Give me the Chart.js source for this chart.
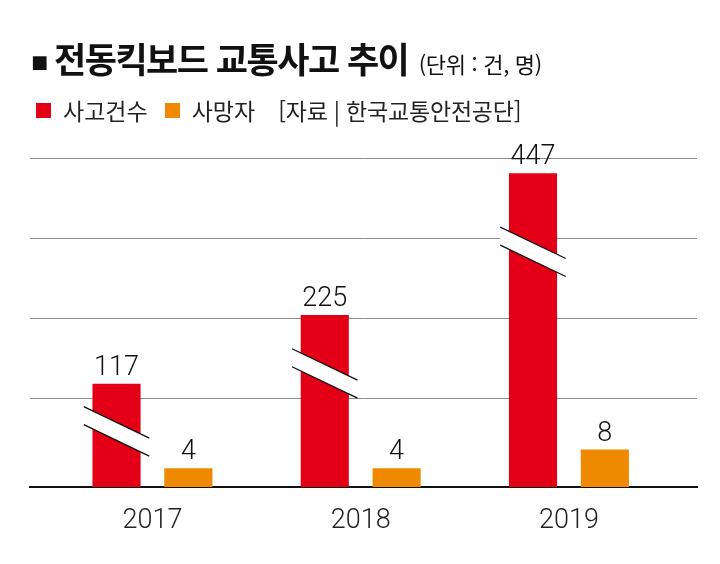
<!DOCTYPE html>
<html lang="ko">
<head>
<meta charset="utf-8">
<script src="https://cdn.jsdelivr.net/npm/chart.js@4.4.1/dist/chart.umd.min.js"></script>
<style>
  html, body { margin: 0; padding: 0; background: #fff; }
  #wrap { position: relative; width: 720px; height: 564px; overflow: hidden; }
  #chart { position: absolute; left: 0; top: 0; }
  #title {
    position: absolute; left: 31px; top: 40px; white-space: nowrap;
    font-family: "Noto Sans CJK KR", sans-serif; color: #111;
    font-size: 35px; line-height: 35px; font-weight: 700; letter-spacing: -1.5px;
  }
  #title .sq { font-family: "DejaVu Sans", sans-serif; font-size: 18px; letter-spacing: 0; margin-right: 6px; vertical-align: 5px; }
  #title .unit { font-size: 22px; font-weight: 400; letter-spacing: -0.3px; margin-left: 2px; }
  #legend {
    position: absolute; left: 36px; top: 99px; height: 22px; display: flex; align-items: center; white-space: nowrap;
    font-family: "Noto Sans CJK KR", sans-serif; color: #222; font-size: 23px; line-height: 22px; letter-spacing: 0;
  }
  #legend .box { display: inline-block; width: 15px; height: 15px; margin-right: 12px; }
  #legend .item { display: flex; align-items: center; margin-right: 17px; }
  #legend .src { margin-left: 6px; letter-spacing: -0.2px; }
</style>
</head>
<body>
<div id="wrap">
  <canvas id="chart" width="720" height="564"></canvas>
  <div id="title"><span class="sq">■</span>전동킥보드 교통사고 추이 <span class="unit">(단위 : 건, 명)</span></div>
  <div id="legend"></div>
</div>
<script>
const years = ['2017', '2018', '2019'];
const accidents = [117, 225, 447];
const deaths = [4, 4, 8];
const seriesNames = ['사고건수', '사망자'];
const sourceText = '[자료 | 한국교통안전공단]';

const RED = '#e30016';
const ORANGE = '#ef8a00';

// break marks across the red bars (fraction of bar height where the cut sits)
const breakMarks = {
    id: 'breakMarks',
    afterDatasetsDraw(chart, args, opts) {
        const ctx = chart.ctx;
        const meta = chart.getDatasetMeta(0);
        ctx.save();
        meta.data.forEach((bar, i) => {
            const f = opts.fractions[i];
            const yc = bar.base - f * (bar.base - bar.y);
            const half = bar.width / 2 + 8.7;
            const dy = opts.slope * half;
            const g = opts.gap / 2;
            const x0 = bar.x - half, x1 = bar.x + half;
            ctx.fillStyle = '#fff';
            ctx.beginPath();
            ctx.moveTo(x0, yc - g - dy);
            ctx.lineTo(x1, yc - g + dy);
            ctx.lineTo(x1, yc + g + dy);
            ctx.lineTo(x0, yc + g - dy);
            ctx.closePath();
            ctx.fill();
            ctx.strokeStyle = '#111';
            ctx.lineWidth = 1.3;
            ctx.beginPath();
            ctx.moveTo(x0, yc - g - dy);
            ctx.lineTo(x1, yc - g + dy);
            ctx.moveTo(x0, yc + g - dy);
            ctx.lineTo(x1, yc + g + dy);
            ctx.stroke();
        });
        ctx.restore();
    }
};

const valueLabels = {
    id: 'valueLabels',
    afterDatasetsDraw(chart) {
        const ctx = chart.ctx;
        ctx.save();
        ctx.font = '300 27px Roboto, "Liberation Sans", sans-serif';
        ctx.fillStyle = '#111';
        ctx.textAlign = 'center';
        ctx.textBaseline = 'alphabetic';
        chart.data.datasets.forEach((ds, i) => {
            chart.getDatasetMeta(i).data.forEach((bar, j) => {
                ctx.fillText(String(ds.data[j]), bar.x, bar.y - 9);
            });
        });
        ctx.restore();
    }
};

const chart = new Chart(document.getElementById('chart'), {
    type: 'bar',
    data: {
        labels: years,
        datasets: [
            {
                label: seriesNames[0],
                data: accidents,
                backgroundColor: RED,
                yAxisID: 'yRed',
                base: -45,
                categoryPercentage: 0.69,
                barPercentage: 0.67
            },
            {
                label: seriesNames[1],
                data: deaths,
                backgroundColor: ORANGE,
                yAxisID: 'yOrange',
                categoryPercentage: 0.69,
                barPercentage: 0.67
            }
        ]
    },
    options: {
        responsive: false,
        animation: false,
        layout: { padding: { top: 158.7, left: 30, right: 23, bottom: 16.5 } },
        plugins: {
            legend: { display: false },
            tooltip: { enabled: false },
            breakMarks: { fractions: [0.54, 0.66, 0.75], slope: 0.48, gap: 18 }
        },
        scales: {
            x: {
                type: 'linear',
                offset: false,
                min: 2016.412,
                max: 2019.615,
                grid: { display: false },
                border: { display: true, color: '#111', width: 2 },
                ticks: {
                    stepSize: 1,
                    includeBounds: false,
                    autoSkip: false,
                    maxRotation: 0,
                    padding: 10,
                    color: '#222',
                    font: { family: 'Roboto, "Liberation Sans", sans-serif', size: 27, weight: '300' },
                    callback: v => String(v)
                }
            },
            yRed: { display: false, min: -45, max: 470 },
            yOrange: { display: false, min: 0, max: 70 },
            yGrid: {
                position: 'left',
                min: -0.1,
                max: 4,
                ticks: { display: false, stepSize: 1, includeBounds: false },
                border: { display: false },
                grid: {
                    drawTicks: false,
                    lineWidth: 1,
                    color: c => (c.tick && c.tick.value === 0) ? 'rgba(0,0,0,0)' : '#8c8c8c'
                }
            }
        }
    },
    plugins: [breakMarks, valueLabels]
});

// html legend built from the datasets
const legendEl = document.getElementById('legend');
chart.data.datasets.forEach(ds => {
    const item = document.createElement('span');
    item.className = 'item';
    const box = document.createElement('span');
    box.className = 'box';
    box.style.background = ds.backgroundColor;
    item.appendChild(box);
    item.appendChild(document.createTextNode(ds.label));
    legendEl.appendChild(item);
});
const src = document.createElement('span');
src.className = 'src';
src.textContent = sourceText;
legendEl.appendChild(src);
</script>
</body>
</html>
